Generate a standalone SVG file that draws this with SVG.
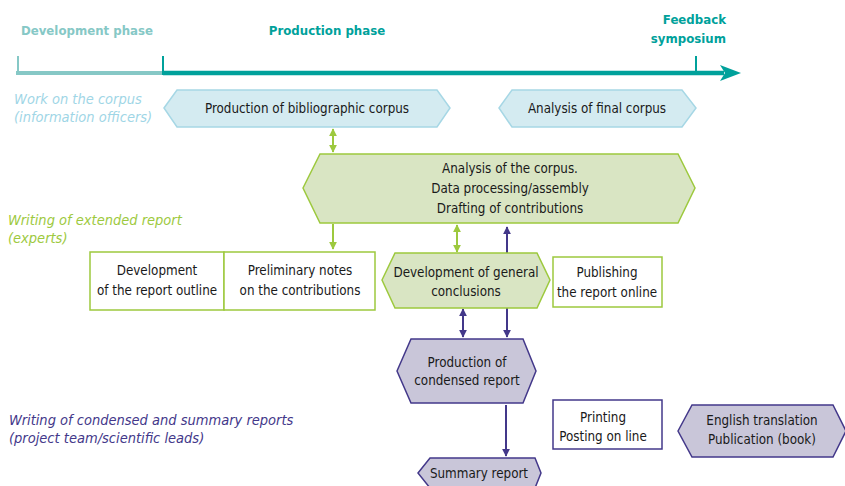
<svg xmlns="http://www.w3.org/2000/svg" width="845" height="486" viewBox="0 0 845 486">
<defs>
<marker id="ag" viewBox="0 0 10 10" refX="9" refY="5" markerWidth="4" markerHeight="4" orient="auto-start-reverse" markerUnits="strokeWidth"><path d="M0,0 L10,5 L0,10 Z" fill="#9dc93e"/></marker>
<marker id="ap" viewBox="0 0 10 10" refX="9" refY="5" markerWidth="4" markerHeight="4" orient="auto-start-reverse" markerUnits="strokeWidth"><path d="M0,0 L10,5 L0,10 Z" fill="#43388a"/></marker>
</defs>
<style>
text{font-family:"Liberation Sans Narrow","DejaVu Sans Condensed","Liberation Sans",sans-serif;}
.t{font-size:13.3px;fill:#1a1a1a;text-anchor:middle;}
.ph{font-size:13.1px;font-weight:bold;}
.lab{font-size:14.5px;font-style:italic;}
.blue{fill:#d4ebf1;stroke:#a6d7e5;stroke-width:1.5;}
.green{fill:#d9e5c3;stroke:#9dc93e;stroke-width:1.5;}
.gbox{fill:#ffffff;stroke:#9dc93e;stroke-width:1.5;}
.purple{fill:#c9c6d9;stroke:#43388a;stroke-width:1.5;}
.pbox{fill:#ffffff;stroke:#43388a;stroke-width:1.5;}
.cg{stroke:#9dc93e;stroke-width:2;fill:none;}
.cp{stroke:#43388a;stroke-width:2;fill:none;}
</style>
<g id="timeline">
<line x1="16" y1="73" x2="163" y2="73" stroke="#86c8c6" stroke-width="4"/>
<line x1="18" y1="56" x2="18" y2="74" stroke="#86c8c6" stroke-width="2"/>
<line x1="163" y1="56" x2="163" y2="75" stroke="#00a19b" stroke-width="2"/>
<line x1="163" y1="73" x2="724" y2="73" stroke="#00a19b" stroke-width="4.5"/>
<line x1="696" y1="56" x2="696" y2="73" stroke="#00a19b" stroke-width="2"/>
<path d="M720,65 L741,73 L720,81 L725,73 Z" fill="#00a19b"/>
<text class="ph" x="87" y="35" text-anchor="middle" fill="#86c8c6">Development phase</text>
<text class="ph" x="327" y="35" text-anchor="middle" fill="#00a19b">Production phase</text>
<text class="ph" x="726" y="24" text-anchor="end" fill="#00a19b">Feedback</text>
<text class="ph" x="726" y="43" text-anchor="end" fill="#00a19b">symposium</text>
</g>
<g id="lane-labels">
<text class="lab" x="14" y="104" fill="#9fd6e6">Work on the corpus</text>
<text class="lab" x="14" y="122" fill="#9fd6e6">(information officers)</text>
<text class="lab" x="8" y="225" fill="#9dc93e">Writing of extended report</text>
<text class="lab" x="8" y="243" fill="#9dc93e">(experts)</text>
<text class="lab" x="9" y="425" fill="#43388a">Writing of condensed and summary reports</text>
<text class="lab" x="9" y="443" fill="#43388a">(project team/scientific leads)</text>
</g>
<g id="connectors">
<line class="cg" x1="333" y1="129" x2="333" y2="152" marker-start="url(#ag)" marker-end="url(#ag)"/>
<line class="cg" x1="333" y1="224" x2="333" y2="249" marker-end="url(#ag)"/>
<line class="cg" x1="457" y1="225" x2="457" y2="252" marker-start="url(#ag)" marker-end="url(#ag)"/>
<line class="cp" x1="507" y1="227" x2="507" y2="337" marker-start="url(#ap)" marker-end="url(#ap)"/>
<line class="cp" x1="463" y1="309" x2="463" y2="337" marker-start="url(#ap)" marker-end="url(#ap)"/>
<line class="cp" x1="506" y1="405" x2="506" y2="456" marker-end="url(#ap)"/>
</g>
<g id="n-bib">
<polygon class="blue" points="164,108 177,90 437,90 450,108 437,127 177,127"/>
<text class="t" x="307" y="113">Production of bibliographic corpus</text>
</g>
<g id="n-final">
<polygon class="blue" points="499,108 512,90 682,90 696,108 682,127 512,127"/>
<text class="t" x="597" y="113">Analysis of final corpus</text>
</g>
<g id="n-analysis">
<polygon class="green" points="303,188 320,154 678,154 695,188 678,223 320,223"/>
<text class="t" x="510" y="173">Analysis of the corpus.</text>
<text class="t" x="510" y="193">Data processing/assembly</text>
<text class="t" x="510" y="213">Drafting of contributions</text>
</g>
<g id="n-outline">
<rect class="gbox" x="90" y="252" width="134" height="58"/>
<text class="t" x="157" y="275">Development</text>
<text class="t" x="157" y="295">of the report outline</text>
</g>
<g id="n-notes">
<rect class="gbox" x="224" y="252" width="151" height="58"/>
<text class="t" x="300" y="275">Preliminary notes</text>
<text class="t" x="300" y="295">on the contributions</text>
</g>
<g id="n-conclusions">
<polygon class="green" points="382,280 395,253 537,253 550,280 537,308 395,308"/>
<text class="t" x="466" y="277">Development of general</text>
<text class="t" x="466" y="296">conclusions</text>
</g>
<g id="n-publishing">
<rect class="gbox" x="553" y="257" width="109" height="50"/>
<text class="t" x="607" y="277">Publishing</text>
<text class="t" x="607" y="297">the report online</text>
</g>
<g id="n-condensed">
<polygon class="purple" points="397,371 411,339 523,339 536,371 523,403 411,403"/>
<text class="t" x="467" y="367">Production of</text>
<text class="t" x="467" y="385">condensed report</text>
</g>
<g id="n-printing">
<rect class="pbox" x="553" y="400" width="109" height="49"/>
<text class="t" x="603" y="422">Printing</text>
<text class="t" x="603" y="441">Posting on line</text>
</g>
<g id="n-english">
<polygon class="purple" points="678,431 692,405 833,405 846,431 833,457 692,457"/>
<text class="t" x="762" y="425">English translation</text>
<text class="t" x="762" y="444">Publication (book)</text>
</g>
<g id="n-summary">
<polygon class="purple" points="418,473 430,458 535,458 541,473 535,488 430,488"/>
<text class="t" x="479" y="478">Summary report</text>
</g>
</svg>
